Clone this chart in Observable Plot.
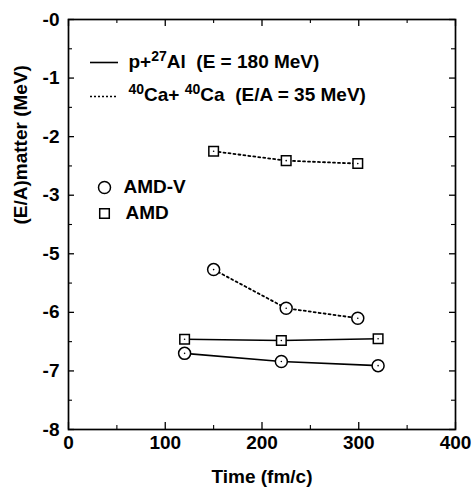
<!DOCTYPE html>
<html>
<head>
<meta charset="utf-8">
<script src="https://cdn.jsdelivr.net/npm/d3@7"></script>
<script src="https://cdn.jsdelivr.net/npm/@observablehq/plot@0.6"></script>
<style>
  html, body { margin: 0; padding: 0; background: #fff; }
  svg text { white-space: pre; }
</style>
</head>
<body>
<div id="chart"></div>
<script>
// ---- data ----
const timeAl = [120, 220, 320];          // p+27Al
const amdAl = [-6.46, -6.48, -6.45];
const amdvAl = [-6.70, -6.84, -6.91];
const timeCa = [150, 225, 299];          // 40Ca+40Ca
const amdCa = [-2.25, -2.41, -2.46];
const amdvCa = [-5.27, -5.93, -6.10];

const xMajor = [0, 100, 200, 300, 400];
const xMinor = [50, 150, 250, 350];
const yTicks = [0, -1, -2, -3, -5, -6, -7, -8];
const yTickLabels = ["-0", "-1", "-2", "-3", "-5", "-6", "-7", "-8"];
const yMinor = [-0.5, -1.5, -2.5, -4, -5.5, -6.5, -7.5];

const systemLabels = ["p+27Al  (E = 180 MeV)", "40Ca+ 40Ca  (E/A = 35 MeV)"];
const systemParts = [
  [["p+", false], ["27", true], ["Al  (E = 180 MeV)", false]],
  [["40", true], ["Ca+ ", false], ["40", true], ["Ca  (E/A = 35 MeV)", false]]
];
const modelLabels = ["AMD-V", "AMD"];
const xLabel = "Time (fm/c)";
const yLabel = "(E/A)matter (MeV)";

// ---- table ----
const rows = [];
timeAl.forEach((t, i) => {
  rows.push({t, e: amdAl[i], model: "AMD", system: "Al"});
  rows.push({t, e: amdvAl[i], model: "AMD-V", system: "Al"});
});
timeCa.forEach((t, i) => {
  rows.push({t, e: amdCa[i], model: "AMD", system: "Ca"});
  rows.push({t, e: amdvCa[i], model: "AMD-V", system: "Ca"});
});

// ---- layout ----
const W = 476, H = 489;
const mL = 68, mR = 21, mT = 19, mB = 60;
const fw = W - mL - mR, fh = H - mT - mB;
const yRange = yTicks.map((_, i) => mT + i * fh / (yTicks.length - 1));
const font = "'Liberation Sans', Arial, Helvetica, sans-serif";
const fs = 19;

const lineSym = {draw(ctx) { ctx.moveTo(-14, 0); ctx.lineTo(14, 0); }};

const plot = Plot.plot({
  width: W, height: H,
  marginLeft: mL, marginRight: mR, marginTop: mT, marginBottom: mB,
  style: {fontFamily: font, fontWeight: "bold", fontSize: fs + "px", color: "black", background: "white"},
  x: {domain: [0, 400]},
  y: {type: "linear", domain: yTicks, range: yRange},
  marks: [
    // ticks (inward, all four sides)
    Plot.tickX(xMajor, {x: d => d, insetTop: fh - 7, strokeWidth: 1.3}),
    Plot.tickX(xMajor, {x: d => d, insetBottom: fh - 7, strokeWidth: 1.3}),
    Plot.tickX(xMinor, {x: d => d, insetTop: fh - 4, strokeWidth: 1.1}),
    Plot.tickX(xMinor, {x: d => d, insetBottom: fh - 4, strokeWidth: 1.1}),
    Plot.tickY(yTicks, {y: d => d, insetRight: fw - 6, strokeWidth: 1.3}),
    Plot.tickY(yTicks, {y: d => d, insetLeft: fw - 6, strokeWidth: 1.3}),
    Plot.tickY(yMinor, {y: d => d, insetRight: fw - 4, strokeWidth: 1.1}),
    Plot.tickY(yMinor, {y: d => d, insetLeft: fw - 4, strokeWidth: 1.1}),
    Plot.frame({stroke: "black", strokeWidth: 1.7}),
    Plot.axisX({ticks: xMajor, tickSize: 0, tickPadding: 6, tickFormat: d => String(d), label: null, fontSize: 19}),
    Plot.axisY({ticks: yTicks, tickSize: 0, tickPadding: 9, tickFormat: d => yTickLabels[yTicks.indexOf(d)], label: null, fontSize: 19}),
    // axis titles
    Plot.text([xLabel], {text: d => d, frameAnchor: "bottom", dy: 47, fontSize: 19, lineAnchor: "middle"}),
    Plot.text([yLabel], {text: d => d, frameAnchor: "left", dx: -48, rotate: -90, fontSize: 19, lineAnchor: "middle"}),
    // data lines
    Plot.line(rows.filter(d => d.system === "Al"), {x: "t", y: "e", z: "model", stroke: "black", strokeWidth: 1.6}),
    Plot.line(rows.filter(d => d.system === "Ca"), {x: "t", y: "e", z: "model", stroke: "black", strokeWidth: 1.8, strokeDasharray: "2,3"}),
    // markers
    Plot.dot(rows.filter(d => d.model === "AMD-V"), {x: "t", y: "e", r: 6, symbol: "circle", fill: "white", stroke: "black", strokeWidth: 1.5}),
    Plot.dot(rows.filter(d => d.model === "AMD"), {x: "t", y: "e", r: 5.4, symbol: "square", fill: "white", stroke: "black", strokeWidth: 1.5}),
    Plot.dot(rows, {x: "t", y: "e", r: 0.8, fill: "black"}),
    // legend: systems
    Plot.dot([0], {frameAnchor: "top-left", dx: 35.5, dy: 43, symbol: lineSym, stroke: "black", strokeWidth: 1.6, fill: "none"}),
    Plot.dot([0], {frameAnchor: "top-left", dx: 35.5, dy: 77, symbol: lineSym, stroke: "black", strokeWidth: 1.6, fill: "none", strokeDasharray: "2,2"}),
    Plot.text([systemLabels[0]], {text: d => d, frameAnchor: "top-left", dx: 60, dy: 42, textAnchor: "start", lineAnchor: "middle", fontSize: fs}),
    Plot.text([systemLabels[1]], {text: d => d, frameAnchor: "top-left", dx: 60, dy: 75, textAnchor: "start", lineAnchor: "middle", fontSize: fs}),
    // legend: models
    Plot.dot([0], {frameAnchor: "top-left", dx: 36, dy: 168, r: 6, symbol: "circle", fill: "white", stroke: "black", strokeWidth: 1.5}),
    Plot.dot([0], {frameAnchor: "top-left", dx: 36, dy: 194, r: 5.4, symbol: "square", fill: "white", stroke: "black", strokeWidth: 1.5}),
    Plot.text([modelLabels[0]], {text: d => d, frameAnchor: "top-left", dx: 55, dy: 167, textAnchor: "start", lineAnchor: "middle", fontSize: fs}),
    Plot.text([modelLabels[1]], {text: d => d, frameAnchor: "top-left", dx: 57, dy: 193, textAnchor: "start", lineAnchor: "middle", fontSize: fs})
  ]
});

// superscripts in the legend labels
d3.select(plot).selectAll("text").each(function () {
  const idx = systemLabels.indexOf(this.textContent);
  if (idx < 0) return;
  const el = d3.select(this);
  el.text(null);
  let up = false;
  systemParts[idx].forEach(([s, sup]) => {
    const ts = el.append("tspan").text(s);
    if (sup && !up) { ts.attr("dy", "-7").attr("font-size", "14px"); up = true; }
    else if (sup && up) { ts.attr("font-size", "14px"); }
    else if (!sup && up) { ts.attr("dy", "7"); up = false; }
  });
});

document.getElementById("chart").appendChild(plot);
</script>
</body>
</html>
